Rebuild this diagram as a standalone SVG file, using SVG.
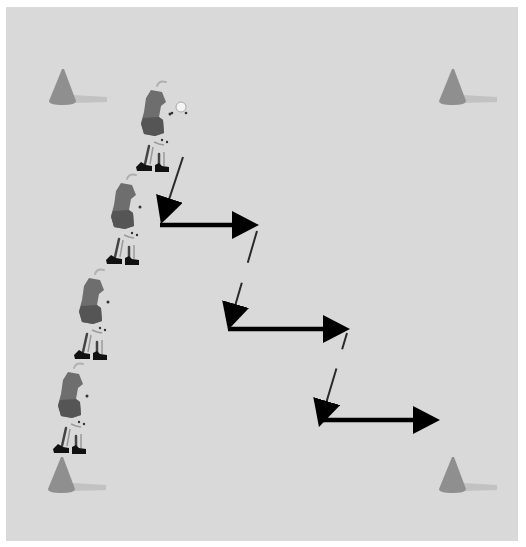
<svg xmlns="http://www.w3.org/2000/svg" width="526" height="547" viewBox="0 0 526 547">
  <style>
    .field { fill: #d9d9d9; }
    .cone { fill: #8f8f8f; }
    .shadow { fill: #c2c2c2; }
    .run { stroke: #000; stroke-width: 4.5; fill: none; }
    .move { stroke: #2a2a2a; stroke-width: 2; fill: none; }
    .head { fill: #000; }
    .hair { stroke: #b0b0b0; stroke-width: 2; fill: none; stroke-linecap: round; }
    .shirt { fill: #6e6e6e; }
    .shorts { fill: #555; }
    .leg { stroke: #444; stroke-width: 2.5; fill: none; stroke-linecap: round; }
    .legl { stroke: #9a9a9a; stroke-width: 1.5; fill: none; }
    .shoe { fill: #111; }
    .dot { fill: #333; }
  </style>
  <defs>
    <!-- solid arrowhead; the line stops 12px short of the tip -->
    <marker id="tip" markerUnits="userSpaceOnUse" markerWidth="30" markerHeight="30" refX="15" refY="14" orient="auto">
      <path class="head" d="M0,0 L27,14 L0,28 Z"/>
    </marker>
    <!-- traffic cone with its cast shadow; origin at the base centre -->
    <g id="cone">
      <path class="shadow" d="M10,-9 L44,-7 L44,-2 L10,-1 Z"/>
      <path class="cone" d="M-1,-35 L1,-35 L13,-3 Q13,1 0,1 Q-14,1 -14,-3 Z"/>
    </g>
    <!-- player figure; origin at the top-left of the figure -->
    <g id="player">
      <path class="hair" d="M17,8 Q19,2 26,4"/>
      <path class="shirt" d="M11,12 L22,14 L26,24 L21,28 L19,39 L23,42 L24,55 L15,58 L4,56 L1,45 L4,34 L6,20 Z"/>
      <path class="shorts" d="M3,40 L19,39 L23,42 L24,55 L15,58 L4,56 L1,46 Z"/>
      <circle class="dot" cx="30" cy="36" r="1.5"/>
      <circle class="dot" cx="22" cy="62" r="1.2"/>
      <circle class="dot" cx="27" cy="64" r="1.2"/>
      <path class="legl" d="M14,64 L19,66 L24,67"/>
      <path class="leg" d="M9,68 L5,86"/>
      <path class="legl" d="M13,69 L10,86"/>
      <path class="leg" d="M19,76 L19,88"/>
      <path class="legl" d="M24,74 L24,88"/>
      <path class="shoe" d="M-4,89 L1,84 L6,87 L12,88 L12,93 L-3,93 Z"/>
      <path class="shoe" d="M15,87 L19,85 L22,88 L29,89 L29,94 L15,94 Z"/>
    </g>
  </defs>

  <rect class="field" x="6" y="7" width="512" height="534"/>

  <!-- corner cones -->
  <g id="cone-tl"><use href="#cone" x="63" y="104"/></g>
  <g id="cone-tr"><use href="#cone" x="453" y="104"/></g>
  <g id="cone-bl"><use href="#cone" x="62" y="492"/></g>
  <g id="cone-br"><use href="#cone" x="453" y="492"/></g>

  <!-- line of players -->
  <g id="player-1">
    <use href="#player" x="140" y="78"/>
    <!-- ball -->
    <circle cx="181" cy="107" r="5" fill="#f4f4f4" stroke="#aaa" stroke-width="1"/>
    <circle class="dot" cx="172" cy="113" r="1.3"/>
    <circle class="dot" cx="186" cy="113" r="1.3"/>
  </g>
  <g id="player-2"><use href="#player" x="110" y="171"/></g>
  <g id="player-3"><use href="#player" x="78" y="266"/></g>
  <g id="player-4"><use href="#player" x="57" y="360"/></g>

  <!-- movement arrows -->
  <g id="connectors">
    <line class="move" x1="183" y1="157" x2="164.7" y2="212.6" marker-end="url(#tip)"/>
    <line class="run" x1="160" y1="225" x2="247" y2="225" marker-end="url(#tip)"/>
    <line class="move" x1="257" y1="231" x2="231.4" y2="318.5" stroke-dasharray="33 21 200" marker-end="url(#tip)"/>
    <line class="run" x1="228" y1="329" x2="338" y2="329" marker-end="url(#tip)"/>
    <line class="move" x1="347" y1="333" x2="322.4" y2="415.5" stroke-dasharray="17 20 200" marker-end="url(#tip)"/>
    <line class="run" x1="319" y1="420" x2="428" y2="420" marker-end="url(#tip)"/>
  </g>
</svg>
